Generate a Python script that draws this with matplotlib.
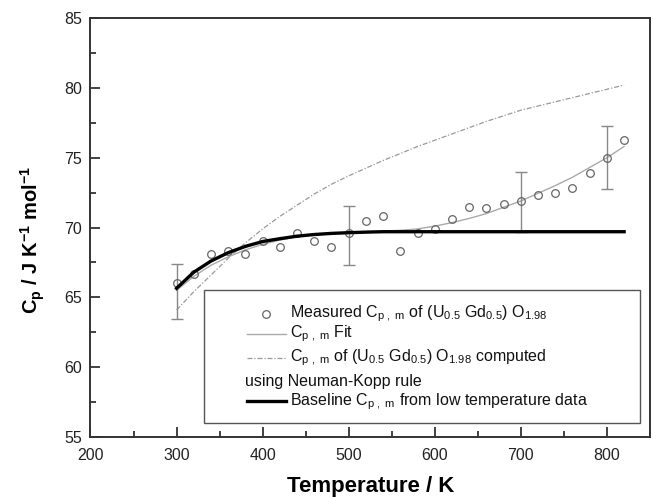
import matplotlib
matplotlib.use('Agg')
import matplotlib.pyplot as plt
from matplotlib.ticker import MultipleLocator
from matplotlib.patches import Rectangle
from matplotlib.lines import Line2D
import numpy as np

plt.rcParams['font.family'] = ['Liberation Sans', 'DejaVu Sans']
plt.rcParams['mathtext.fontset'] = 'custom'
plt.rcParams['mathtext.rm'] = 'Liberation Sans'
plt.rcParams['mathtext.it'] = 'Liberation Sans'
plt.rcParams['mathtext.bf'] = 'Liberation Sans:bold'

# measured Cp,m of (U0.5 Gd0.5) O1.98
T_meas = [300, 320, 340, 360, 380, 400, 420, 440, 460, 480, 500, 520, 540, 560,
          580, 600, 620, 640, 660, 680, 700, 720, 740, 760, 780, 800, 820]
cp_meas = [66.0, 66.7, 68.1, 68.3, 68.1, 69.0, 68.6, 69.6, 69.0, 68.6, 69.6, 70.5,
           70.8, 68.3, 69.6, 69.9, 70.6, 71.5, 71.4, 71.7, 71.9, 72.3, 72.5, 72.8,
           73.9, 75.0, 76.3]

# error bars (drawn on the fit)
T_err = [300, 500, 700, 800]
cp_err = [65.4, 69.45, 71.85, 75.0]
err_size = [1.97, 2.1, 2.15, 2.25]

# Cp,m fit
T_fit = [300, 320, 340, 360, 380, 400, 420, 440, 460, 480, 500, 520, 540, 560,
         580, 600, 620, 640, 660, 680, 700, 720, 740, 760, 780, 800, 820]
cp_fit = [65.5, 66.5, 67.3, 67.9, 68.4, 68.8, 69.1, 69.35, 69.5, 69.6, 69.65, 69.7,
          69.75, 69.8, 69.9, 70.1, 70.35, 70.65, 71.0, 71.45, 71.9, 72.45, 73.0,
          73.6, 74.3, 75.0, 75.8]

# Neumann-Kopp estimate
T_nk = [300, 320, 340, 360, 380, 400, 420, 440, 460, 480, 500, 540, 580, 620,
        660, 700, 740, 780, 820]
cp_nk = [64.1, 65.4, 66.6, 67.8, 68.9, 69.9, 70.8, 71.6, 72.4, 73.1, 73.7, 74.8,
         75.8, 76.7, 77.6, 78.4, 79.0, 79.6, 80.2]

# baseline from low temperature data
T_base = [300, 320, 340, 360, 380, 400, 420, 440, 460, 480, 500, 520, 540, 600,
          700, 820]
cp_base = [65.65, 66.8, 67.6, 68.2, 68.65, 69.0, 69.2, 69.38, 69.5, 69.58, 69.63,
           69.67, 69.7, 69.7, 69.7, 69.7]

fig = plt.figure(figsize=(6.52, 4.97), dpi=100)
ax = fig.add_axes([0.1388, 0.1207, 0.858, 0.843])

ax.plot(T_nk, cp_nk, color='#999999', lw=0.9, ls=(0, (4, 1.5, 1, 1.5)))
ax.plot(T_fit, cp_fit, color='#aaaaaa', lw=1.0)
ax.errorbar(T_err, cp_err, yerr=err_size, fmt='none', ecolor='#888888',
            elinewidth=1.0, capsize=4, capthick=1.0)
ax.plot(T_meas, cp_meas, 'o', mfc='none', mec='#666666', ms=5.5, mew=0.9)
ax.plot(T_base, cp_base, color='black', lw=2.4)

ax.set_xlim(200, 850)
ax.set_ylim(55, 85)
ax.xaxis.set_major_locator(MultipleLocator(100))
ax.xaxis.set_minor_locator(MultipleLocator(50))
ax.yaxis.set_major_locator(MultipleLocator(5))
ax.yaxis.set_minor_locator(MultipleLocator(2.5))
ax.tick_params(which='both', direction='in', top=False, right=False,
               labelsize=11.5, colors='#222222')
ax.tick_params(axis='x', pad=8)
ax.tick_params(axis='y', pad=6)
ax.tick_params(which='major', length=7, width=1.2)
ax.tick_params(which='minor', length=4, width=1.2)
for s in ax.spines.values():
    s.set_linewidth(1.4)
    s.set_color('#333333')

ax.set_xlabel('Temperature / K', fontsize=16, fontweight='bold', labelpad=9)
ax.set_ylabel(r'$\mathbf{C_p}$ / J K$^{\mathbf{-1}}$ mol$^{\mathbf{-1}}$',
              fontsize=14.5, fontweight='bold')
ax.yaxis.set_label_coords(-0.078, 0.47)

# legend drawn by hand (the wrapped label starts under the handle)
tr = ax.transAxes
ax.add_patch(Rectangle((0.203, 0.034), 0.78, 0.317, transform=tr, fill=False,
                       ec='#555555', lw=1.0, zorder=5))
hx0, hx1 = 0.279, 0.350
tx = 0.357
rows = [0.294, 0.246, 0.189, 0.133, 0.085]
fs = 11.5
ax.add_line(Line2D([(hx0 + hx1) / 2], [rows[0]], transform=tr, marker='o',
                   mfc='none', mec='#666666', ms=5.5, mew=0.9, ls='none'))
ax.add_line(Line2D([hx0, hx1], [rows[1]] * 2, transform=tr, color='#aaaaaa', lw=1.0))
ax.add_line(Line2D([hx0, hx1], [rows[2]] * 2, transform=tr, color='#999999',
                   lw=0.9, ls=(0, (4, 1.5, 1, 1.5))))
ax.add_line(Line2D([hx0, hx1], [rows[4]] * 2, transform=tr, color='black', lw=2.4))

sub = r'$_{\mathrm{p\ ,\ m}}$'
labels = [
    r'Measured C' + sub + r' of (U$_{0.5}$ Gd$_{0.5}$) O$_{1.98}$',
    r'C' + sub + ' Fit',
    r'C' + sub + r' of (U$_{0.5}$ Gd$_{0.5}$) O$_{1.98}$ computed',
    None,
    r'Baseline C' + sub + ' from low temperature data',
]
for y, lab in zip(rows, labels):
    if lab:
        ax.text(tx, y, lab, transform=tr, fontsize=fs, va='center', ha='left',
                color='#111111')
ax.text(hx0 - 0.003, rows[3], 'using Neuman-Kopp rule', transform=tr, fontsize=fs,
        va='center', ha='left', color='#111111')

fig.savefig('out.png', dpi=100)
